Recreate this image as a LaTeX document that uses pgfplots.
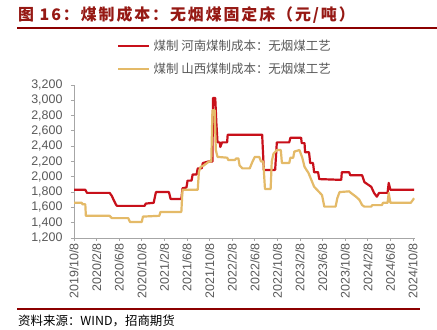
\documentclass[border=0pt]{standalone}
\usepackage{pgfplots}
\pgfplotsset{compat=1.18}
\usepackage{fontspec}
\setmainfont{Liberation Sans}
\newfontfamily\cjk{Noto Sans CJK SC}
\newfontfamily\cjkt[LetterSpace=12]{Noto Sans CJK SC}
\definecolor{c1}{RGB}{200,16,26}
\definecolor{c2}{RGB}{228,186,104}
\definecolor{titlered}{RGB}{150,25,20}
\definecolor{linered}{RGB}{140,0,0}
\definecolor{axgray}{RGB}{166,166,166}
\definecolor{txtgray}{RGB}{89,89,89}
\begin{document}
\begin{tikzpicture}
\fill[white] (0bp,0bp) rectangle (437bp,330bp);
\node[anchor=base west, inner sep=0, text=titlered, font=\cjkt\bfseries\fontsize{16}{16}\selectfont] at (18bp,309bp) {图 16：煤制成本：无烟煤固定床（元/吨）};
\draw[linered, line width=2bp] (17bp,301.5bp) -- (437bp,301.5bp);
\draw[linered, line width=2.5bp] (17bp,21bp) -- (420bp,21bp);
\node[anchor=base west, inner sep=0, font=\cjk\fontsize{12.5}{12.5}\selectfont] at (18bp,5bp) {资料来源：WIND，招商期货};
\begin{axis}[
  at={(74bp,92bp)}, anchor=south west, scale only axis,
  width=340.7bp, height=153bp,
  xmin=0, xmax=60.3, ymin=1200, ymax=3200,
  axis x line=bottom, axis y line=left,
  axis line style={axgray, line width=0.8bp, -},
  tick style={axgray, line width=0.8bp},
  tick align=outside, major tick length=3bp,
  xtick={0,4,...,60},
  xticklabels={2019/10/8,2020/2/8,2020/6/8,2020/10/8,2021/2/8,2021/6/8,2021/10/8,2022/2/8,2022/6/8,2022/10/8,2023/2/8,2023/6/8,2023/10/8,2024/2/8,2024/6/8,2024/10/8},
  xticklabel style={rotate=90, anchor=east, font=\fontsize{12.5}{12.5}\selectfont, text=txtgray, inner sep=2bp},
  ytick={1200,1400,...,3200},
  yticklabel style={font=\fontsize{12.5}{12.5}\selectfont, text=txtgray, xshift=-5bp},
  scaled y ticks=false,
  /pgf/number format/.cd, 1000 sep={,}, assume math mode=true, /pgfplots/.cd,
  legend style={at={(0.126,1.295)}, anchor=north west, draw=none, fill=none,
    inner sep=0pt, row sep=11bp, font=\cjk\fontsize{12.5}{12.5}\selectfont, text=txtgray,
    nodes={inner xsep=3bp, inner ysep=0pt}},
  legend cell align=left,
  legend image code/.code={\draw[#1, line width=2.5bp] (0bp,0bp) -- (31bp,0bp);},
]
\addplot[c1, line width=2.2bp, line join=round] coordinates {
(0,1830)(2.0,1830)(2.3,1790)(6.3,1790)(6.7,1750)(7.0,1700)(7.4,1640)(7.6,1620)
(12.5,1620)(12.7,1650)(14.1,1660)(14.5,1800)(16.8,1800)(17.1,1710)(19.0,1710)
(19.2,1850)(19.9,1860)(20.1,1950)(20.8,1950)(21.0,2030)(21.7,2030)(21.9,2110)
(22.6,2110)(22.8,2180)(23.8,2200)(24.5,2200)(24.6,3030)(25.0,3030)(25.2,2700)
(25.4,2450)(25.8,2450)(25.9,2390)(26.2,2450)(27.1,2450)(27.2,2550)(33.3,2550)
(33.6,2090)(35.6,2090)(35.9,2450)(38.1,2450)(38.3,2510)(40.2,2510)(40.3,2440)
(40.8,2440)(40.9,2320)(41.6,2320)(41.8,2180)(42.3,2180)(42.5,2060)(43.2,2060)
(43.4,1970)(47.3,1960)(47.4,2060)(48.7,2060)(48.9,2020)(51.0,2020)(51.4,1930)
(52.6,1870)(53.1,1790)(53.6,1740)(54.0,1790)(55.5,1790)(55.7,1920)(56.0,1830)
(60.2,1830)};
\addlegendentry{煤制 河南煤制成本：无烟煤工艺}
\addplot[c2, line width=2.2bp, line join=round] coordinates {
(0,1660)(1.4,1660)(1.5,1640)(2.0,1640)(2.1,1490)(6.3,1490)(6.7,1460)(9.6,1460)
(9.9,1410)(12.0,1410)(12.2,1480)(15.1,1490)(15.3,1540)(19.0,1540)(19.2,1830)
(21.9,1830)(22.1,2060)(22.4,2130)(23.0,2150)(23.9,2200)(24.3,2200)(24.5,2870)
(24.9,2870)(25.1,2350)(25.4,2260)(27.1,2250)(27.3,2220)(28.5,2220)(28.7,2240)
(29.1,2240)(29.3,2150)(29.8,2110)(31.1,2110)(31.6,2200)(32.0,2260)(32.8,2260)
(33.1,2200)(33.5,2200)(33.8,1840)(34.8,1840)(35.0,2200)(35.3,2300)(35.9,2350)
(36.6,2350)(36.8,2180)(38.1,2180)(38.3,2250)(38.8,2250)(39.0,2330)(39.9,2350)
(40.4,2250)(40.8,2130)(41.5,2050)(42.0,1960)(42.5,1870)(43.4,1800)(43.9,1760)
(44.3,1610)(46.3,1610)(46.6,1720)(47.0,1800)(48.7,1810)(49.0,1790)(49.9,1740)
(50.5,1700)(51.0,1630)(51.4,1610)(52.6,1610)(52.8,1630)(54.5,1630)(54.7,1660)
(55.5,1660)(55.7,1790)(56.0,1660)(59.6,1660)(60.2,1720)};
\addlegendentry{煤制 山西煤制成本：无烟煤工艺}
\end{axis}
\pgfresetboundingbox
\useasboundingbox (0bp,0bp) rectangle (437bp,330bp);
\end{tikzpicture}
\end{document}
